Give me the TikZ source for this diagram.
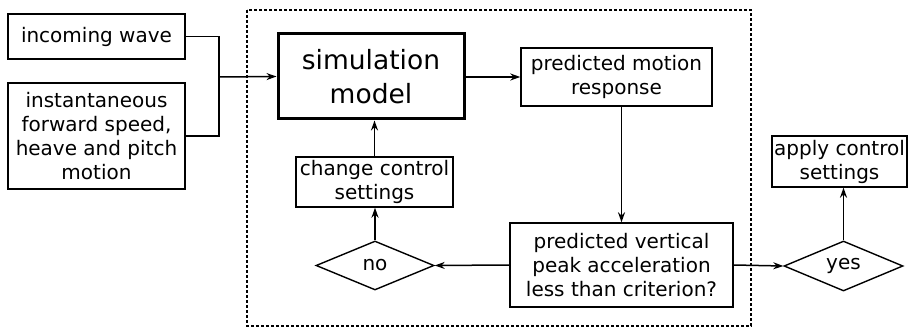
\documentclass[tikz,border=0pt]{standalone}
\usepackage{fontspec}
\setmainfont{DejaVu Sans}
\usetikzlibrary{shapes.geometric,arrows.meta}

\tikzset{
  txt/.style={font=\fontsize{20}{24}\selectfont, align=center, inner sep=0pt},
  box/.style={txt, draw, line width=1.4pt, rectangle},
  bigbox/.style={draw, line width=3pt, rectangle, align=center, inner sep=0pt,
                 font=\fontsize{26.5}{34}\selectfont},
  choice/.style={txt, draw, line width=1.4pt, diamond},
  link/.style={line width=1.5pt},
  arrow/.style={link, -{Stealth[length=10pt,width=7pt]}},
  frame/.style={line width=1.4pt, dash pattern=on 3pt off 2pt}
}

\begin{document}
\begin{tikzpicture}[x=1pt,y=-1pt]
  \useasboundingbox (0,0) rectangle (910,328);

  % boundary of the on-board controller loop
  \draw[frame] (247,10) rectangle (751,326);

  % inputs
  \node[box, minimum width=177pt, minimum height=45pt] (wave) at (96.5,36.5) {incoming wave};
  \node[box, minimum width=177pt, minimum height=106pt] (speed) at (96.5,136)
    {instantaneous\\forward speed,\\heave and pitch\\motion};

  % loop blocks
  \node[bigbox, minimum width=186pt, minimum height=85pt] (sim) at (371,76.5) {simulation\\model};
  \node[box, minimum width=191pt, minimum height=58pt] (resp) at (616.5,77) {predicted motion\\response};
  \node[box, minimum width=223pt, minimum height=84pt] (crit) at (621.5,265)
    {predicted vertical\\peak acceleration\\less than criterion?};
  \node[choice, minimum width=118pt, minimum height=49pt] (no) at (375,265.5) {no};
  \node[box, minimum width=157pt, minimum height=50pt] (change) at (374.5,182) {change control\\settings};

  % outcome
  \node[choice, minimum width=119pt, minimum height=50pt] (yes) at (843.5,266) {yes};
  \node[box, minimum width=135pt, minimum height=51pt] (apply) at (839.5,161.5) {apply control\\settings};

  % merging the two inputs
  \coordinate (join) at (219,77);
  \draw[link] (wave.east) -| (join);
  \draw[link] (speed.east) -| (join);
  \draw[arrow] (join) -- (sim.west);

  % connectors
  \draw[arrow] (sim.east |- resp.west) -- (resp.west);
  \draw[arrow] (crit.north |- resp.south) -- (crit.north);
  \draw[arrow] (crit.west) -- (no.east);
  \draw[arrow] (no.north) -- (no.north |- change.south);
  \draw[arrow] (change.north) -- (change.north |- sim.south);
  \draw[arrow] (crit.east) -- (yes.west);
  \draw[arrow] (yes.north) -- (yes.north |- apply.south);
\end{tikzpicture}
\end{document}
